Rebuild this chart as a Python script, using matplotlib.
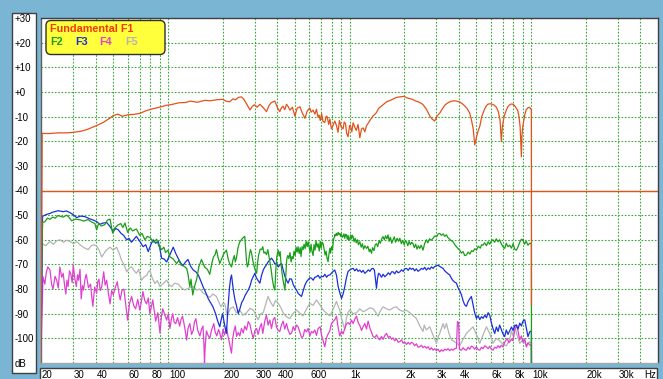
import matplotlib
matplotlib.use("Agg")
import matplotlib.pyplot as plt
from matplotlib.patches import Rectangle, FancyBboxPatch
from matplotlib.transforms import IdentityTransform, blended_transform_factory

# ---------------------------------------------------------------- data
# (frequency in Hz, level in dB) for the fundamental and harmonics
F1 = [(20, -110), (20.3, -16.8), (22, -16.9), (25, -16.6), (28, -16.6), (30, -16.4), (33, -16.0),
      (36, -15.2), (40, -13.8), (44, -12.4), (48, -10.6), (50, -9.6), (53, -9.0), (56, -9.9),
      (60, -9.3), (65, -9.1), (70, -8.7), (76, -7.6), (82, -6.9), (90, -6.2), (97, -5.5),
      (105, -5.1), (115, -4.4), (125, -4.3), (133, -3.7), (145, -4.2), (160, -3.4), (170, -3.6),
      (185, -3.2), (200, -3.0), (210, -3.8), (219, -4.0), (228, -2.8), (235, -3.2), (245, -2.2),
      (254, -2.0), (262, -3.0), (270, -4.6), (283, -7.3), (292, -5.8), (300, -5.2), (310, -6.2),
      (321, -5.0), (335, -6.4), (349, -8.0), (360, -5.6), (370, -4.4), (388, -3.7), (400, -6.2),
      (413, -8.0), (422, -6.4), (430, -5.8), (440, -7.2), (450, -5.0), (460, -6.0), (470, -7.4),
      (485, -6.2), (500, -9.8), (515, -6.6), (533, -6.0), (550, -8.6), (568, -10.7), (585, -7.8),
      (604, -6.5), (615, -8.2), (630, -7.4), (645, -9.0), (658, -7.0), (670, -10.2), (680, -9.4),
      (690, -11.6), (702, -8.8), (715, -12.0), (731, -12.4), (745, -9.8), (755, -10.2),
      (768, -13.2), (780, -11.0), (795, -15.0), (810, -13.8), (830, -11.8), (848, -13.7),
      (865, -16.4), (880, -11.6), (900, -14.2), (922, -15.0), (935, -12.2), (950, -12.8),
      (965, -16.8), (982, -18.2), (1000, -14.0), (1010, -13.4), (1030, -16.2), (1047, -12.5),
      (1070, -14.4), (1090, -15.6), (1115, -13.2), (1140, -18.6), (1165, -15.0), (1190, -14.6),
      (1215, -16.2), (1241, -13.7), (1270, -12.6), (1300, -11.4), (1350, -9.7), (1400, -8.6),
      (1450, -6.6), (1520, -5.4), (1600, -4.0), (1680, -3.4), (1750, -2.8), (1820, -2.2),
      (1894, -2.0), (2000, -1.8), (2070, -2.4), (2148, -2.7), (2220, -3.0), (2300, -3.6),
      (2420, -4.2), (2530, -5.0), (2650, -7.0), (2766, -9.7), (2850, -11.0), (2946, -11.8),
      (3050, -9.6), (3140, -8.6), (3250, -6.8), (3350, -5.4), (3450, -4.6), (3565, -4.0),
      (3680, -3.7), (3800, -3.6), (3920, -3.8), (4045, -4.1), (4180, -4.8), (4300, -5.6),
      (4450, -6.8), (4594, -8.6), (4700, -11.5), (4800, -15.0), (4895, -21.5), (5000, -18.5),
      (5100, -16.0), (5216, -14.0), (5350, -10.0), (5500, -7.6), (5630, -6.0), (5770, -5.0),
      (5930, -4.8), (6100, -5.0), (6270, -5.4), (6440, -6.2), (6600, -8.0), (6750, -11.5),
      (6860, -20.2), (6950, -14.0), (7100, -10.0), (7308, -7.4), (7450, -6.0), (7600, -5.3),
      (7760, -4.9), (7920, -5.0), (8080, -5.4), (8200, -6.0), (8320, -6.8), (8440, -7.4),
      (8580, -10.0), (8700, -14.0), (8800, -22.0), (8846, -26.3), (8900, -18.0), (9000, -14.0),
      (9230, -9.3), (9400, -7.2), (9580, -6.5), (9800, -6.2), (10040, -7.3), (10050, -86.5)]

F2 = [(20, -85), (20.4, -53.0), (21, -52.7), (21.7, -51.2), (22.4, -51.7), (23.2, -50.8),
      (24, -51.2), (24.7, -50.2), (25.4, -50.4), (26.5, -50.8), (27.7, -50.0), (28.6, -51.0),
      (29.5, -52.3), (31, -51.6), (32.8, -51.9), (34.5, -52.4), (36.3, -51.8), (38, -52.8),
      (39.6, -53.4), (40.5, -56.0), (41.5, -53.4), (43, -54.4), (45, -53.8), (46.5, -52.0),
      (48, -51.6), (49.6, -57.3), (51, -55.2), (53, -54.0), (55, -53.4), (56.5, -55.0),
      (58, -53.2), (60, -57.0), (62, -55.2), (64, -56.4), (67, -55.6), (70, -58.2), (72, -57.4),
      (74.7, -60.0), (77, -58.6), (80, -59.2), (83, -61.0), (86.7, -59.8), (89, -62.4),
      (92.3, -64.0), (95, -63.0), (97, -65.2), (100, -64.2), (102.6, -66.9), (107, -67.8),
      (111.6, -69.6), (115, -68.4), (118, -70.2), (123, -70.8), (126.8, -71.6), (129, -74.0),
      (132, -79.0), (134, -76.0), (137, -82.4), (140, -79.0), (144, -76.0), (148, -71.0),
      (153, -68.0), (157, -70.0), (160, -71.2), (165, -72.0), (170, -74.0), (174, -70.0),
      (178, -67.0), (182, -66.0), (185, -64.0), (189, -67.2), (193, -69.6), (197, -68.0),
      (202, -66.0), (206, -65.0), (210, -64.2), (216, -68.6), (220, -70.0), (224, -71.0),
      (228, -68.2), (232, -66.4), (235, -69.0), (239, -67.0), (243, -63.4), (248, -61.0),
      (254, -60.0), (259, -59.2), (265, -58.6), (268, -64.0), (271, -68.8), (274, -71.0),
      (277, -70.0), (281, -66.2), (285, -64.0), (289, -65.5), (293, -68.2), (298, -70.6),
      (303, -72.4), (308, -73.6), (312, -69.0), (316, -66.2), (322, -63.8), (328, -64.0),
      (333, -62.8), (338, -65.4), (343, -65.0), (349, -66.0), (355, -64.0), (362, -67.8),
      (370, -72.0), (376, -76.0), (382, -79.0), (388, -80.4), (393, -72.0), (398, -66.8),
      (405, -64.2), (410, -66.6), (415, -64.8), (420, -70.0), (426, -74.0), (432, -77.0),
      (437, -79.0), (441, -80.4), (446, -74.0), (451, -68.0), (457, -66.4), (463, -67.6),
      (470, -65.2), (477, -69.0), (483, -66.8), (489, -67.7), (495, -64.6), (502, -66.4),
      (508, -63.0), (515, -65.0), (521, -62.8), (528, -65.6), (535, -63.2), (541, -66.8),
      (548, -62.8), (555, -64.0), (562, -61.8), (570, -63.6), (577, -60.6), (585, -62.8),
      (592, -60.8), (600, -63.2), (607, -65.0), (614, -61.8), (622, -64.8), (630, -66.4),
      (638, -62.0), (646, -64.2), (654, -60.4), (663, -63.0), (672, -61.6), (681, -64.6),
      (690, -60.6), (698, -63.4), (707, -61.0), (716, -61.6), (725, -64.0), (734, -66.2),
      (743, -64.6), (752, -67.4), (762, -68.9), (770, -66.0), (779, -63.4), (787, -65.4),
      (796, -62.8), (806, -64.2), (815, -60.2), (824, -59.0), (833, -57.8), (840, -58.4),
      (848, -57.4), (858, -58.2), (866, -57.0), (875, -57.8), (884, -57.4), (893, -58.6),
      (902, -57.6), (912, -59.0), (922, -58.7), (932, -57.6), (942, -59.4), (952, -57.8),
      (962, -58.0), (972, -59.8), (982, -58.2), (992, -60.2), (1004, -59.4), (1015, -58.0),
      (1026, -59.6), (1037, -58.2), (1047, -58.7), (1060, -60.8), (1075, -59.4), (1090, -61.2),
      (1105, -60.0), (1120, -62.0), (1140, -60.8), (1160, -63.0), (1178, -61.6), (1195, -63.8),
      (1215, -62.4), (1241, -63.5), (1262, -62.6), (1285, -64.8), (1300, -63.8), (1322, -65.5),
      (1340, -63.2), (1365, -64.4), (1385, -62.0), (1408, -61.6), (1430, -62.8), (1455, -60.4),
      (1480, -61.4), (1505, -59.6), (1531, -58.7), (1555, -60.0), (1580, -58.4), (1605, -59.6),
      (1630, -58.0), (1655, -60.6), (1680, -59.0), (1710, -61.4), (1737, -60.0), (1765, -58.8),
      (1795, -61.0), (1830, -59.4), (1862, -60.6), (1894, -59.4), (1930, -61.6), (1965, -60.2),
      (2000, -62.0), (2030, -60.4), (2059, -60.8), (2095, -62.4), (2130, -60.6), (2165, -62.0),
      (2200, -61.0), (2238, -61.6), (2275, -63.2), (2315, -61.8), (2355, -63.8), (2395, -62.4),
      (2437, -63.5), (2480, -62.2), (2541, -64.2), (2590, -61.6), (2653, -60.0), (2700, -61.2),
      (2760, -59.6), (2820, -60.2), (2885, -59.4), (2950, -58.4), (3020, -58.8), (3080, -57.6),
      (3140, -57.4), (3210, -58.2), (3280, -57.6), (3350, -58.6), (3418, -58.0), (3490, -59.2),
      (3560, -59.8), (3640, -60.4), (3717, -60.8), (3800, -62.0), (3880, -62.8), (3960, -63.6),
      (4045, -64.2), (4130, -65.4), (4220, -64.8), (4310, -66.4), (4404, -66.2), (4500, -65.0),
      (4600, -65.8), (4700, -64.4), (4790, -64.8), (4900, -63.6), (5000, -64.2), (5120, -62.6),
      (5250, -63.4), (5340, -62.0), (5434, -62.2), (5550, -61.2), (5680, -62.4), (5800, -60.8),
      (5916, -61.8), (6040, -60.4), (6168, -60.0), (6300, -61.0), (6430, -59.6), (6570, -60.8),
      (6714, -60.0), (6850, -61.6), (7000, -62.8), (7158, -63.5), (7300, -61.4), (7460, -62.8),
      (7622, -62.2), (7800, -63.4), (7960, -61.6), (8130, -63.8), (8300, -64.2), (8480, -62.8),
      (8660, -61.0), (8840, -59.8), (9020, -60.0), (9200, -61.8), (9400, -60.6), (9614, -62.2),
      (9820, -61.4), (10040, -61.5), (10050, -110)]

F3 = [(20, -105), (20.4, -50.5), (21, -50.0), (21.7, -49.6), (22.4, -49.3), (23.2, -48.8),
      (24, -48.5), (24.9, -48.2), (25.7, -48.4), (26.5, -48.6), (27.6, -48.3), (28.9, -49.0),
      (30.1, -49.8), (31.4, -51.0), (33, -50.4), (34.9, -50.6), (36.8, -51.4), (38.8, -52.0),
      (40.5, -52.6), (42.2, -53.7), (44, -53.2), (46, -53.0), (48, -54.6), (50, -56.7),
      (51.6, -55.4), (53.3, -56.0), (55.2, -57.4), (57, -58.2), (59.3, -60.0), (61, -59.4),
      (63, -61.0), (65, -59.8), (67, -58.6), (70, -60.6), (73, -62.8), (75.5, -62.0),
      (77.9, -64.8), (80.5, -62.0), (83, -60.0), (85.6, -61.4), (88.4, -60.6), (90.2, -63.4),
      (92.3, -67.5), (95.4, -67.8), (98.4, -69.0), (102.6, -66.0), (107, -63.0), (110.5, -65.6),
      (114, -67.6), (117.5, -69.4), (121, -70.5), (125, -69.0), (129, -68.0), (133.5, -70.8),
      (138, -72.3), (142.5, -73.0), (147, -74.3), (151.5, -76.6), (156, -79.0), (161.5, -81.4),
      (167, -84.0), (172, -85.6), (177, -87.2), (183, -90.0), (188, -93.0), (193, -95.3),
      (197, -92.0), (200, -90.0), (204, -93.4), (207, -96.0), (210, -98.0), (214, -88.0),
      (218, -80.0), (221, -76.0), (224, -74.3), (228, -79.0), (231, -82.0), (234, -84.4),
      (239, -87.0), (244, -90.0), (250, -87.6), (255, -85.4), (260, -84.4), (266, -82.6),
      (271, -81.6), (277, -80.4), (283, -78.8), (289, -76.4), (295, -75.0), (301, -73.6),
      (307, -75.4), (314, -76.6), (321, -77.6), (328, -74.4), (335, -72.3), (342, -71.0),
      (349, -70.2), (356, -69.0), (364, -68.2), (372, -67.5), (380, -68.4), (388, -69.8),
      (397, -69.6), (405, -71.0), (414, -70.2), (422, -69.6), (431, -72.2), (441, -74.9),
      (450, -76.4), (459, -77.6), (469, -75.8), (480, -76.0), (490, -78.2), (500, -79.4),
      (511, -80.4), (522, -81.8), (533, -82.4), (544, -83.0), (556, -80.6), (568, -78.4),
      (580, -77.0), (592, -76.2), (605, -75.4), (618, -75.6), (631, -76.4), (644, -75.2),
      (658, -75.0), (672, -74.4), (687, -75.6), (701, -74.8), (716, -75.0), (732, -74.0),
      (748, -75.2), (763, -74.4), (779, -74.3), (795, -73.6), (812, -72.8), (830, -72.3),
      (848, -74.4), (866, -79.0), (885, -81.6), (904, -83.8), (922, -82.0), (942, -79.0),
      (962, -75.4), (982, -72.9), (1004, -72.2), (1026, -71.8), (1047, -71.6), (1070, -72.6),
      (1093, -71.8), (1116, -72.8), (1140, -72.3), (1165, -73.2), (1188, -72.4), (1214, -73.6),
      (1241, -73.0), (1268, -72.2), (1295, -72.8), (1322, -71.8), (1350, -71.6), (1372, -72.4),
      (1390, -76.0), (1408, -79.7), (1425, -76.0), (1445, -73.6), (1468, -74.0), (1500, -75.2),
      (1531, -74.0), (1565, -75.0), (1600, -74.3), (1635, -73.4), (1670, -74.2), (1705, -73.0),
      (1737, -73.0), (1775, -73.8), (1815, -72.6), (1855, -73.4), (1894, -73.0), (1935, -72.2),
      (1975, -72.8), (2015, -71.8), (2059, -71.6), (2105, -72.4), (2150, -71.4), (2195, -72.0),
      (2238, -71.6), (2285, -72.6), (2335, -71.8), (2385, -72.8), (2437, -72.3), (2490, -71.6),
      (2541, -72.0), (2595, -71.2), (2653, -72.3), (2710, -71.4), (2770, -72.0), (2825, -71.0),
      (2885, -71.6), (2950, -70.8), (3010, -70.6), (3074, -70.3), (3140, -70.8), (3206, -71.2),
      (3275, -71.6), (3345, -72.6), (3418, -73.2), (3490, -73.8), (3565, -74.3), (3640, -75.6),
      (3717, -76.6), (3800, -77.2), (3880, -77.6), (3960, -79.4), (4045, -80.6), (4137, -82.4),
      (4225, -84.8), (4310, -86.4), (4404, -87.0), (4500, -85.0), (4590, -84.0), (4690, -83.0),
      (4790, -86.4), (4890, -89.6), (5000, -91.9), (5110, -90.8), (5216, -92.4), (5330, -91.2),
      (5434, -91.9), (5560, -90.6), (5680, -91.6), (5800, -89.6), (5916, -90.5), (6040, -93.6),
      (6168, -96.0), (6304, -98.0), (6440, -95.4), (6580, -97.2), (6714, -94.6), (6860, -96.4),
      (7000, -98.2), (7158, -99.3), (7300, -96.6), (7460, -98.4), (7622, -97.0), (7800, -95.4),
      (7960, -96.8), (8130, -94.8), (8300, -94.6), (8480, -96.2), (8660, -93.8), (8846, -95.0),
      (9020, -93.0), (9230, -92.5), (9400, -95.6), (9614, -99.3), (9820, -97.4), (10040, -97.0),
      (10050, -110)]

F4 = [(20, -106), (20.5, -75.0), (21, -78.0), (21.4, -73.2), (21.8, -71.0), (22.4, -72.3),
      (22.9, -78.2), (23.3, -80.0), (23.9, -74.8), (24.4, -76.4), (24.9, -79.6), (25.4, -71.0),
      (26, -75.2), (26.5, -73.6), (27, -78.8), (27.4, -82.0), (27.8, -76.4), (28.2, -79.0),
      (28.7, -72.6), (29.2, -74.0), (29.7, -77.4), (30.1, -70.2), (30.7, -75.6), (31.3, -79.0),
      (31.8, -74.2), (32.2, -76.4), (32.8, -72.0), (33.3, -84.0), (33.8, -78.6), (34.3, -80.4),
      (34.9, -76.2), (35.5, -74.0), (36.5, -79.4), (37.5, -78.0), (38, -82.6), (38.6, -87.0),
      (39.5, -79.2), (40.5, -81.7), (41.1, -77.0), (41.7, -76.0), (42.4, -80.6), (43.2, -79.0),
      (43.8, -75.6), (44.3, -73.0), (45.1, -78.4), (46, -76.4), (47, -81.6), (48, -86.0),
      (49, -80.6), (50, -82.3), (51.3, -79.4), (52.6, -77.0), (53.6, -81.2), (54.6, -84.4),
      (55.8, -80.6), (57.2, -80.0), (58.6, -86.4), (60, -92.6), (61.5, -85.8), (63.1, -83.0),
      (64.7, -86.6), (66.4, -88.0), (68.2, -84.2), (70, -88.5), (71.4, -85.2), (72.8, -81.0),
      (74.5, -84.6), (76.3, -86.0), (78, -83.6), (79.6, -90.0), (81, -87.2), (82.5, -84.4),
      (84, -88.6), (85.6, -93.0), (88, -89.6), (90.4, -97.8), (92, -91.4), (93.6, -88.0),
      (96, -90.4), (98.4, -92.6), (100.5, -90.0), (102.6, -96.0), (104.5, -92.2), (106.3, -90.0),
      (108.4, -93.6), (110.5, -94.0), (113, -91.6), (116, -95.0), (118, -92.4), (120.4, -91.0),
      (123.5, -95.2), (126.8, -100.7), (129, -96.0), (132, -94.0), (135, -98.4), (138, -96.6),
      (140, -93.4), (142.5, -92.0), (146, -96.8), (150, -99.0), (153, -96.4), (156, -95.0),
      (158, -103.0), (159, -110.0), (160.5, -103.0), (163, -97.0), (166, -98.6), (170, -100.0),
      (174, -96.6), (179, -94.0), (182, -97.4), (186, -99.0), (190, -96.4), (193, -97.8),
      (197, -100.6), (201, -96.4), (205, -98.6), (210, -95.3), (214, -99.0), (218, -101.6),
      (221, -104.0), (224, -106.0), (227, -100.4), (231, -97.0), (235, -95.0), (239, -99.2),
      (244, -97.6), (249, -99.0), (254, -96.0), (260, -97.8), (265, -95.0), (271, -96.6),
      (277, -93.2), (283, -94.4), (289, -97.6), (295, -100.0), (301, -97.0), (308, -96.0),
      (314, -98.4), (321, -95.5), (327, -94.0), (333, -98.0), (341, -93.2), (349, -90.5),
      (356, -94.6), (364, -92.6), (372, -96.0), (380, -92.4), (388, -91.5), (396, -95.4),
      (405, -96.8), (413, -97.2), (422, -94.6), (431, -93.0), (440, -96.2), (450, -94.0),
      (459, -96.6), (470, -98.4), (480, -97.8), (490, -95.2), (500, -96.8), (511, -94.6),
      (521, -95.3), (533, -97.6), (544, -99.6), (555, -99.3), (567, -96.4), (580, -97.4),
      (592, -96.0), (605, -99.0), (618, -97.2), (630, -97.8), (644, -96.6), (658, -98.8),
      (672, -96.0), (689, -95.3), (701, -98.6), (716, -101.0), (731, -103.4), (748, -99.6),
      (763, -98.2), (779, -97.0), (795, -94.0), (812, -93.2), (830, -92.4), (848, -91.0),
      (866, -95.6), (884, -99.0), (904, -97.0), (922, -98.2), (942, -96.0), (962, -94.2),
      (982, -93.6), (1004, -94.4), (1026, -92.6), (1048, -94.0), (1070, -92.2), (1093, -91.0),
      (1116, -93.6), (1140, -94.8), (1165, -96.8), (1188, -95.3), (1214, -94.0), (1241, -96.2),
      (1266, -93.0), (1295, -95.8), (1322, -97.6), (1350, -99.3), (1380, -99.6), (1410, -98.6),
      (1440, -100.0), (1468, -100.6), (1500, -99.2), (1531, -100.4), (1565, -98.8),
      (1600, -98.0), (1635, -99.6), (1670, -99.2), (1705, -100.4), (1737, -99.8),
      (1775, -101.0), (1815, -100.2), (1855, -101.6), (1894, -101.3), (1935, -100.6),
      (1975, -102.0), (2015, -101.4), (2059, -102.5), (2105, -101.6), (2150, -102.4),
      (2195, -101.6), (2238, -102.0), (2285, -103.0), (2335, -102.2), (2385, -103.6),
      (2437, -103.4), (2490, -102.8), (2541, -103.8), (2595, -103.2), (2653, -104.0),
      (2710, -103.4), (2770, -104.6), (2825, -103.8), (2885, -104.8), (2950, -104.2),
      (3010, -105.0), (3074, -104.4), (3140, -105.5), (3206, -104.6), (3275, -105.2),
      (3345, -104.4), (3418, -104.8), (3490, -104.2), (3565, -105.0), (3640, -104.4),
      (3717, -104.8), (3800, -104.2), (3880, -104.0), (3930, -93.2), (3990, -93.6),
      (4030, -104.4), (4137, -104.8), (4225, -103.8), (4310, -104.6), (4404, -104.8),
      (4500, -103.6), (4590, -104.4), (4690, -103.2), (4790, -103.5), (4890, -104.4),
      (5000, -103.4), (5110, -104.6), (5216, -104.8), (5330, -103.6), (5434, -104.2),
      (5560, -103.0), (5676, -103.5), (5800, -104.2), (5916, -103.2), (6040, -104.4),
      (6168, -104.8), (6304, -103.6), (6440, -104.0), (6580, -103.0), (6714, -103.8),
      (6860, -102.8), (7000, -103.5), (7158, -101.6), (7370, -100.0), (7560, -101.8),
      (7800, -100.4), (7950, -101.0), (8130, -96.6), (8330, -94.6), (8500, -97.4),
      (8656, -100.6), (8840, -99.0), (9020, -101.6), (9230, -100.2), (9420, -103.5),
      (9614, -101.8), (9820, -102.6), (10040, -103.0), (10050, -110)]

F5 = [(20, -100), (20.4, -61.6), (21.2, -62.4), (22.4, -60.7), (23.4, -61.8), (24.4, -60.4),
      (25.4, -60.0), (26.6, -61.0), (27.7, -60.2), (28.9, -60.7), (30.2, -61.6), (31.5, -60.8),
      (32.8, -62.0), (34.5, -63.2), (36.4, -64.0), (37.6, -62.6), (38.8, -62.0), (40.5, -62.5),
      (42, -64.6), (43.2, -67.0), (45.5, -64.4), (48, -63.0), (50, -64.2), (52.2, -63.0),
      (54, -65.6), (55.6, -68.4), (57.4, -70.2), (59.3, -73.0), (61, -71.6), (63, -71.0),
      (65, -72.4), (67, -73.6), (69, -72.0), (71.6, -76.4), (74, -75.0), (76.3, -74.5),
      (78, -73.0), (79.6, -72.5), (82, -75.6), (84.8, -77.7), (87.5, -76.6), (90.4, -79.0),
      (94, -77.8), (98.4, -76.4), (101.5, -78.2), (104.8, -79.0), (109, -77.6), (114, -78.0),
      (119, -79.6), (124, -80.4), (130, -79.6), (138, -79.0), (144, -80.4), (150, -80.0),
      (156, -81.6), (163, -82.4), (170, -83.4), (177, -82.0), (185, -83.0), (190, -85.0),
      (196, -87.2), (201, -85.8), (206, -86.0), (212, -91.0), (220, -88.0), (229, -87.2),
      (238, -89.6), (249, -88.5), (259, -90.6), (271, -89.6), (283, -87.8), (295, -88.5),
      (304, -90.4), (314, -92.5), (324, -90.0), (335, -89.6), (346, -86.0), (356, -83.0),
      (368, -85.4), (380, -87.0), (392, -84.6), (405, -85.8), (418, -87.4), (431, -89.6),
      (449, -91.2), (469, -92.0), (490, -89.8), (511, -88.5), (533, -89.8), (555, -90.9),
      (580, -88.0), (605, -85.8), (630, -86.6), (658, -84.4), (687, -86.4), (716, -88.5),
      (748, -89.8), (779, -90.9), (812, -88.2), (848, -85.0), (866, -87.0), (884, -88.5),
      (905, -92.0), (925, -94.4), (942, -96.6), (960, -92.0), (982, -89.4), (1004, -88.5),
      (1048, -90.0), (1093, -89.6), (1140, -88.0), (1190, -89.2), (1241, -88.5), (1295, -87.6),
      (1350, -88.0), (1393, -89.4), (1437, -91.0), (1485, -88.6), (1531, -87.2), (1600, -88.0),
      (1666, -88.5), (1740, -87.6), (1815, -87.2), (1893, -88.6), (1973, -89.0), (2060, -88.6),
      (2148, -89.6), (2240, -90.8), (2338, -92.0), (2440, -95.0), (2541, -97.2), (2580, -94.6),
      (2650, -96.6), (2766, -95.3), (2880, -98.6), (3012, -102.0), (3080, -99.4),
      (3140, -98.0), (3275, -94.0), (3340, -96.0), (3418, -94.0), (3530, -98.0),
      (3640, -100.6), (3840, -101.6), (4045, -103.0), (4220, -100.4), (4404, -98.0),
      (4600, -96.6), (4790, -95.3), (5000, -98.4), (5216, -102.0), (5440, -98.6),
      (5676, -95.3), (5920, -98.0), (6168, -102.0), (6440, -100.0), (6714, -101.0),
      (7000, -102.4), (7308, -103.0), (7620, -100.6), (7800, -97.0), (7950, -99.0),
      (8100, -94.6), (8300, -97.6), (8656, -102.0), (9020, -100.6), (9420, -103.0),
      (9800, -101.4), (10040, -102.0), (10050, -110)]

REFERENCE_DB = -40

Y_LABELS = ["+30", "+20", "+10", "+0", "-10", "-20", "-30", "-40", "-50",
            "-60", "-70", "-80", "-90", "-100", "dB"]
Y_LABEL_DB = [30, 20, 10, 0, -10, -20, -30, -40, -50, -60, -70, -80, -90, -100, -110]

X_LABELS = ["20", "30", "40", "60", "80", "100", "200", "300", "400", "600",
            "1k", "2k", "3k", "4k", "6k", "8k", "10k", "20k", "30k"]
X_LABEL_HZ = [20, 30, 40, 60, 80, 100, 200, 300, 400, 600,
              1000, 2000, 3000, 4000, 6000, 8000, 10000, 20000, 30000]

GRID_HZ = [30, 40, 50, 60, 70, 80, 90,
           100, 200, 300, 400, 500, 600, 700, 800, 900,
           1000, 2000, 3000, 4000, 5000, 6000, 7000, 8000, 9000,
           10000, 20000, 30000, 40000]
GRID_DB = [20, 10, 0, -10, -20, -30, -40, -50, -60, -70, -80, -90, -100]

# ---------------------------------------------------------------- style
C_F1 = "#e4521b"
C_F2 = "#1a9e1a"
C_F3 = "#1a30d8"
C_F4 = "#e040d0"
C_F5 = "#b4b4b4"
C_GRID = "#3aa83a"
C_BG = "#7ab6d4"
FONT = "Liberation Sans"

W, H = 663, 379
fig = plt.figure(figsize=(W / 100, H / 100), dpi=100)
fig.patch.set_facecolor(C_BG)


def fx(px):
    return px / W


def fy(py):
    return 1 - py / H


ax = fig.add_axes([fx(41), fy(363), fx(658) - fx(41), fy(18) - fy(363)])
ax.set_facecolor("white")
ax.set_xscale("log")
ax.set_xlim(20, 50000)
ax.set_ylim(-110, 30)
ax.set_xticks([])
ax.set_yticks([])
ax.minorticks_off()

for s, c in (("top", "#404040"), ("right", "#404040"), ("left", "#606060"), ("bottom", "#a8a8a8")):
    ax.spines[s].set_color(c)
    ax.spines[s].set_linewidth(1.0)

grid_kw = dict(color=C_GRID, lw=0.8, ls=(0, (1.5, 1.5)), zorder=1)
for f in GRID_HZ:
    ax.axvline(f, **grid_kw)
for d in GRID_DB:
    ax.axhline(d, **grid_kw)

ax.axhline(REFERENCE_DB, color=C_F1, lw=1.0, zorder=2)

for series, color in ((F5, C_F5), (F4, C_F4), (F3, C_F3), (F2, C_F2), (F1, C_F1)):
    hz, db = zip(*series)
    ax.plot(hz, db, color=color, lw=0.9, zorder=3, solid_joinstyle="round")

# left label panel
fig.add_artist(Rectangle((fx(11.5), fy(373)), fx(36) - fx(11.5), fy(12.5) - fy(373),
                         transform=fig.transFigure, facecolor="white",
                         edgecolor="#404040", lw=1.0))
for lab, d in zip(Y_LABELS, Y_LABEL_DB):
    py = 18 + (30 - d) * 345 / 140
    fig.text(fx(14.5), fy(py + 1), lab, ha="left", va="center",
             fontsize=7, family=FONT, color="black")

# bottom label panel
fig.add_artist(Rectangle((fx(40), fy(381)), fx(657) - fx(40), fy(368) - fy(381),
                         transform=fig.transFigure, facecolor="white",
                         edgecolor="#404040", lw=1.0))
xt = blended_transform_factory(ax.transData, fig.transFigure)
for lab, f in zip(X_LABELS, X_LABEL_HZ):
    fig.text(f * 1.012, fy(374.5), lab, transform=xt, ha="left", va="center",
             fontsize=7, family=FONT, color="black")
fig.text(fx(656), fy(374.5), "Hz", ha="right", va="center",
         fontsize=7, family=FONT, color="black")

# legend box
fig.add_artist(FancyBboxPatch((46, H - 54.5), 119, 34,
                              boxstyle="round,pad=0,rounding_size=5",
                              transform=IdentityTransform(),
                              facecolor="#ffff3c", edgecolor="#303030", lw=1.0))
leg_kw = dict(fontsize=7.8, fontweight="bold", family=FONT, va="center", ha="left")
fig.text(fx(50.5), fy(29.5), "Fundamental F1", color="#f03a0a", **leg_kw)
fig.text(fx(50.5), fy(42), "F2", color=C_F2, **leg_kw)
fig.text(fx(75), fy(42), "F3", color=C_F3, **leg_kw)
fig.text(fx(99.5), fy(42), "F4", color=C_F4, **leg_kw)
fig.text(fx(125), fy(42), "F5", color=C_F5, **leg_kw)

fig.savefig("out.png", dpi=100, facecolor=fig.get_facecolor())
